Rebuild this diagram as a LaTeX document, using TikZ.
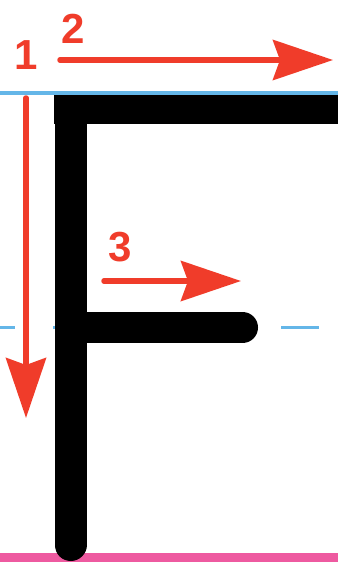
\documentclass[tikz,border=0pt]{standalone}
\usepackage{fontspec}
\setmainfont{Liberation Sans}
\usetikzlibrary{arrows.meta}
\definecolor{guideblue}{RGB}{100,182,232}
\definecolor{guidepink}{RGB}{238,90,160}
\definecolor{arrowred}{RGB}{240,60,42}
\tikzset{
  redarrow/.style={draw=arrowred, line width=5.5pt, line cap=round,
    -{Stealth[length=60pt, width=40pt, inset=7pt]}},
  numlabel/.style={text=arrowred, font=\fontsize{42}{42}\selectfont\bfseries, inner sep=0pt},
  stroke/.style={draw=black, line width=32pt, line cap=round}
}
\begin{document}
\begin{tikzpicture}[x=1pt,y=1pt]
\useasboundingbox (0,0) rectangle (338,-562);
\fill[white] (0,0) rectangle (338,-562);
% guide lines
\draw[guideblue, line width=3.5pt] (0,-93) -- (338,-93);
\draw[guideblue, line width=2.5pt, dash pattern=on 38pt off 38pt, dash phase=23pt] (0,-327.5) -- (338,-327.5);
\fill[guidepink] (0,-553) rectangle (338,-562);
% letter F
\draw[stroke] (70.5,-112) -- (70.5,-545);
\fill[black] (54,-95) rectangle (338,-124);
\draw[stroke, line width=31pt] (80,-327.5) -- (242.5,-327.5);
% labels
\node[numlabel] (l1) at (26,-55) {1};
\node[numlabel] (l2) at (73,-29) {2};
\node[numlabel] (l3) at (120,-247) {3};
% arrows
\coordinate (a1s) at (26,-98);
\coordinate (a1e) at (26,-418);
\coordinate (a2s) at (60,-60);
\coordinate (a2e) at (333,-60);
\coordinate (a3s) at (104,-281);
\coordinate (a3e) at (241,-281);
\draw[redarrow] (a1s) -- (a1e);
\draw[redarrow] (a2s) -- (a2e);
\draw[redarrow] (a3s) -- (a3e);
\end{tikzpicture}
\end{document}
